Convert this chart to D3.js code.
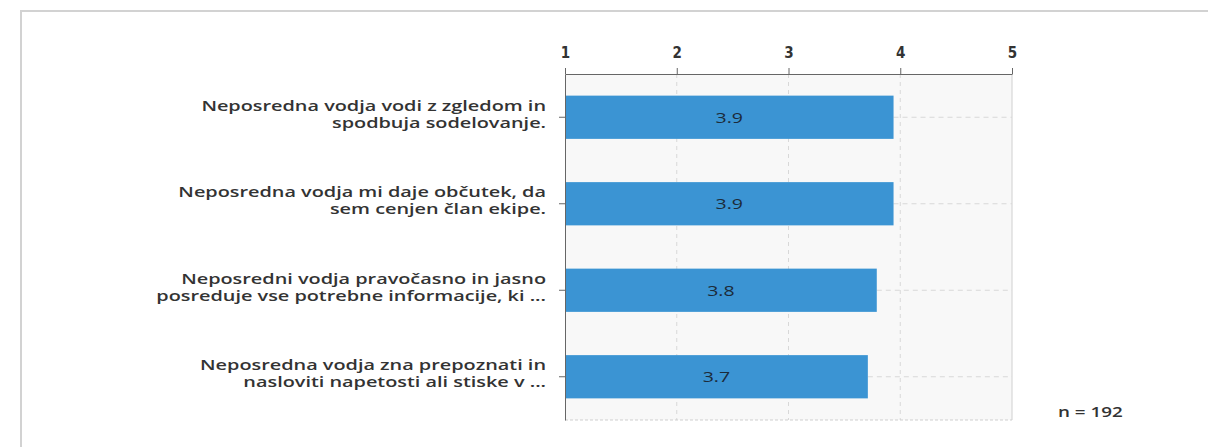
<!DOCTYPE html>
<html>
<head>
<meta charset="utf-8">
<script src="https://cdn.jsdelivr.net/npm/d3@7"></script>
<style>
  body { margin: 0; background: #fff; }
  svg { display: block; }
</style>
</head>
<body>
<svg id="chart"></svg>
<script>
// podatki
const categories = [
  ["Neposredna vodja vodi z zgledom in", "spodbuja sodelovanje."],
  ["Neposredna vodja mi daje občutek, da", "sem cenjen član ekipe."],
  ["Neposredni vodja pravočasno in jasno", "posreduje vse potrebne informacije, ki ..."],
  ["Neposredna vodja zna prepoznati in", "nasloviti napetosti ali stiske v ..."]
];
const values = [3.94, 3.94, 3.79, 3.71];
const xTicks = [1, 2, 3, 4, 5];
const nLabel = "n = 192";

const width = 1208;
const height = 447;
const plot = { left: 565, right: 1012, top: 74, bottom: 420 };
const stretch = 1.3; // besedilo v izvirniku je vodoravno raztegnjeno

const svg = d3.select("#chart").attr("width", width).attr("height", height);

// okvir
svg.append("path")
  .attr("d", `M21,${height} V11 H${width}`)
  .attr("fill", "none")
  .attr("stroke", "#d2d2d2")
  .attr("stroke-width", 2);

const x = d3.scaleLinear().domain([1, 5]).range([plot.left, plot.right]);
const y = d3.scaleBand().domain(d3.range(categories.length))
  .range([plot.top, plot.bottom]).paddingInner(0.5).paddingOuter(0.25);

// ozadje
svg.append("rect")
  .attr("x", plot.left).attr("y", plot.top)
  .attr("width", plot.right - plot.left).attr("height", plot.bottom - plot.top)
  .attr("fill", "#f8f8f8");

// mreža navpično
svg.selectAll(".vgrid")
  .data(xTicks.slice(1))
  .enter().append("line")
  .attr("x1", d => x(d)).attr("x2", d => x(d))
  .attr("y1", plot.top).attr("y2", plot.bottom)
  .attr("stroke", d => d === 5 ? "#d0d0d0" : "#d8d8d8")
  .attr("stroke-dasharray", d => d === 5 ? null : "4,4");

svg.append("line")
  .attr("x1", plot.left).attr("x2", plot.right)
  .attr("y1", plot.bottom).attr("y2", plot.bottom)
  .attr("stroke", "#cfcfcf")
  .attr("stroke-dasharray", "3,2");

// mreža vodoravno
svg.selectAll(".hgrid")
  .data(values)
  .enter().append("line")
  .attr("x1", d => x(d)).attr("x2", plot.right)
  .attr("y1", (d, i) => y(i) + y.bandwidth() / 2)
  .attr("y2", (d, i) => y(i) + y.bandwidth() / 2)
  .attr("stroke", "#d8d8d8")
  .attr("stroke-dasharray", "5,4");

// stolpci
svg.selectAll(".bar")
  .data(values)
  .enter().append("rect")
  .attr("x", x(1))
  .attr("y", (d, i) => y(i))
  .attr("width", d => x(d) - x(1))
  .attr("height", y.bandwidth())
  .attr("fill", "#3b94d3");

svg.selectAll(".val")
  .data(values)
  .enter().append("text")
  .attr("transform", (d, i) => `translate(${(x(1) + x(d)) / 2},${y(i) + y.bandwidth() / 2}) scale(${stretch},1)`)
  .attr("dy", "0.35em")
  .attr("text-anchor", "middle")
  .attr("font-family", "Open Sans, sans-serif")
  .attr("font-size", 15)
  .attr("fill", "#1c2b3a")
  .text(d => d.toFixed(1));

// os x zgoraj
const xAxis = svg.append("g")
  .attr("transform", `translate(0,${plot.top})`)
  .call(d3.axisTop(x).tickValues(xTicks).tickSize(6).tickSizeOuter(0).tickFormat(d3.format("d")));
xAxis.select(".domain").attr("stroke", "#666");
xAxis.selectAll(".tick line").attr("stroke", "#666");
xAxis.selectAll("text")
  .attr("font-family", "DejaVu Sans Condensed, sans-serif")
  .attr("font-weight", "bold")
  .attr("font-size", 15)
  .attr("fill", "#333")
  .attr("dy", "-0.45em");

// os y
const yAxis = svg.append("g")
  .attr("transform", `translate(${plot.left},0)`)
  .call(d3.axisLeft(y).tickSize(6).tickSizeOuter(0).tickFormat(""));
yAxis.select(".domain").attr("stroke", "#666");
yAxis.selectAll(".tick line").attr("stroke", "#666");

// oznake kategorij
const labels = svg.selectAll(".cat")
  .data(categories)
  .enter().append("text")
  .attr("text-anchor", "end")
  .attr("font-family", "Open Sans, sans-serif")
  .attr("font-weight", 600)
  .attr("font-size", 14.5)
  .attr("fill", "#333")
  .attr("transform", (d, i) => `translate(546,${y(i) + y.bandwidth() / 2}) scale(1.37,1)`);

labels.selectAll("tspan")
  .data(d => d)
  .enter().append("tspan")
  .attr("x", 0)
  .attr("y", (d, j) => (j - 0.5) * 17)
  .attr("dy", "0.15em")
  .text(d => d);

svg.append("text")
  .attr("transform", `translate(1058,412) scale(${stretch},1)`)
  .attr("dy", "0.35em")
  .attr("font-family", "Open Sans, sans-serif")
  .attr("font-weight", 600)
  .attr("font-size", 14.5)
  .attr("fill", "#333")
  .text(nLabel);
</script>
</body>
</html>
